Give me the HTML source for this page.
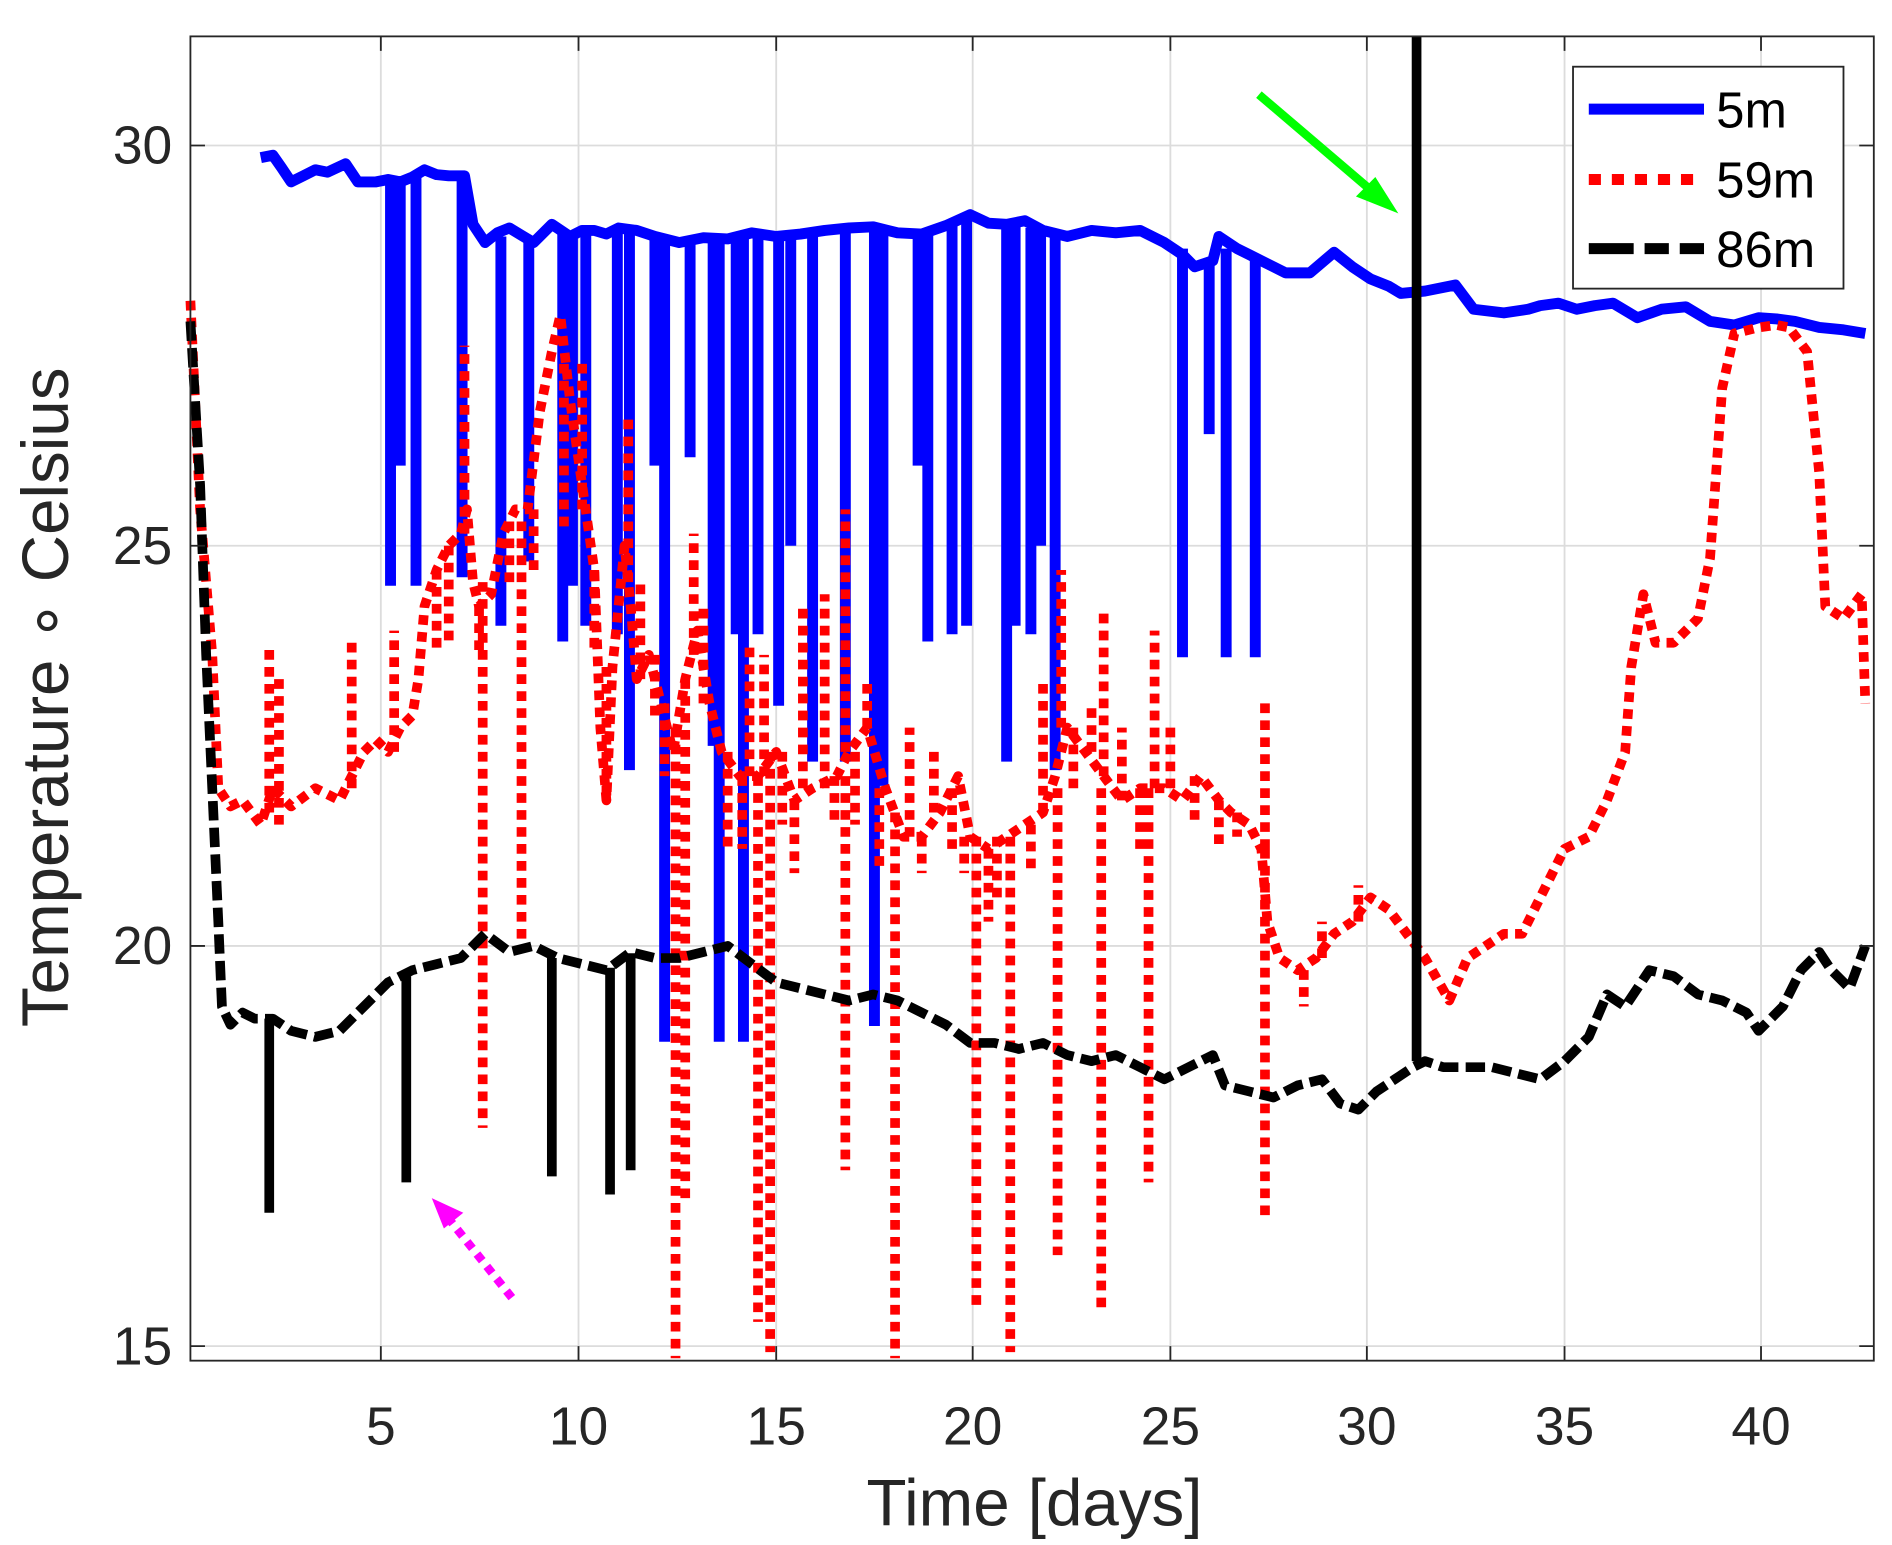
<!DOCTYPE html>
<html><head><meta charset="utf-8"><style>html,body{margin:0;padding:0;background:#fff}svg{display:block}</style></head>
<body>
<svg width="1892" height="1545" viewBox="0 0 1560 1274" preserveAspectRatio="none" xmlns="http://www.w3.org/2000/svg" font-family="Liberation Sans, sans-serif">
<rect width="1560" height="1274" fill="#fff"/>
<g stroke="#dcdcdc" stroke-width="1.5">
<line x1="314" y1="30" x2="314" y2="1122"/><line x1="477" y1="30" x2="477" y2="1122"/><line x1="640" y1="30" x2="640" y2="1122"/><line x1="802" y1="30" x2="802" y2="1122"/><line x1="965" y1="30" x2="965" y2="1122"/><line x1="1127" y1="30" x2="1127" y2="1122"/><line x1="1290" y1="30" x2="1290" y2="1122"/><line x1="1452" y1="30" x2="1452" y2="1122"/>
<line x1="157" y1="120" x2="1545" y2="120"/><line x1="157" y1="450" x2="1545" y2="450"/><line x1="157" y1="780" x2="1545" y2="780"/><line x1="157" y1="1110" x2="1545" y2="1110"/>
</g>
<g fill="none" stroke-linejoin="round">
<g stroke="#0000ff" stroke-width="9">
<polyline points="215,130 225,128 232,138 240,150 250,145 260,140 270,142 285,135 295,150 310,150 320,148 330,150 340,146 350,140 360,144 370,145 383,145 390,185 400,200 410,192 420,188 430,194 440,200 455,185 470,195 480,190 490,190 500,193 510,188 525,190 540,195 560,200 580,196 600,197 620,192 640,195 660,193 680,190 700,188 720,187 740,192 760,193 780,186 800,177 815,184 830,185 845,182 860,190 880,195 900,190 920,192 940,190 960,200 975,210 985,220 1000,215 1005,195 1020,205 1030,210 1040,215 1060,225 1080,225 1100,208 1115,220 1130,230 1145,236 1155,242 1175,240 1200,235 1215,255 1240,258 1260,255 1270,252 1285,250 1300,255 1315,252 1330,250 1350,262 1370,255 1390,253 1410,265 1430,268 1450,262 1465,263 1480,265 1500,270 1520,272 1538,275"/>
<path d="M322,150V483M330,150V384M343,145V483M381,145V476M413,195V516M436,195V463M464,190V529M472,193V483M483,190V516M509,188V523M519,190V635M540,195V384M548,197V859M569,198V377M588,198V615M593,198V859M607,197V523M613,197V859M625,196V523M642,195V582M652,194V450M670,192V628M697,190V628M721,188V846M728,188V648M757,192V384M765,192V529M785,185V523M797,180V516M830,185V628M837,186V516M850,188V523M858,189V450M870,193V635M975,205V542M997,215V358M1011,205V542M1035,212V542"/>
</g>
<g stroke="#ff0000" stroke-width="8" stroke-dasharray="8 6">
<polyline points="157,248 165,420 175,540 180,650 190,665 200,660 215,680 225,650 240,665 260,650 280,660 290,640 300,620 310,610 320,620 330,600 340,590 345,560 350,500 360,470 370,450 380,440 385,420 390,480 395,500 405,490 415,440 425,420 435,420 445,340 455,290 462,260 470,330 480,400 490,470 495,600 500,660 505,550 515,450 520,500 525,560 535,540 545,580 555,620 565,560 575,520 585,580 595,620 610,640 625,640 640,620 655,660 670,650 690,640 700,620 715,600 730,650 745,690 760,690 775,670 790,640 800,690 815,700 830,690 845,680 860,670 870,640 880,600 895,620 910,640 925,660 940,650 960,650 975,660 990,640 1005,660 1015,670 1030,680 1040,700 1045,760 1055,790 1070,800 1085,790 1100,770 1115,760 1130,740 1145,750 1160,770 1175,790 1195,825 1210,790 1225,780 1240,770 1255,770 1270,740 1290,700 1310,690 1325,660 1340,620 1345,550 1355,490 1365,530 1380,530 1400,510 1410,460 1420,320 1430,275 1450,270 1465,268 1475,270 1490,290 1500,390 1505,500 1520,510 1535,490 1538,580"/>
<path d="M398,480V930M430,430V780M557,600V1120M565,560V990M625,640V1090M635,620V1115M697,640V965M738,670V1120M805,690V1080M833,690V1115M872,650V1035M908,650V1080M947,650V975M1043,700V1005M383,440V285M480,420V300M518,480V340M572,540V440M697,620V420M715,600V560M875,600V470M910,640V500M952,650V520M1043,700V580M230,680V560M222,670V535M290,650V530M325,620V520M618,640V530M630,640V540M662,650V500M680,650V490M360,470V540M370,450V530M395,500V540M420,430V480M440,420V470M465,300V440M490,470V540M500,550V660M528,560V480M540,540V590M548,580V640M580,580V500M600,620V700M612,640V700M645,620V680M655,660V720M688,640V680M705,620V680M725,650V720M750,690V600M760,690V720M770,670V620M785,650V700M795,690V720M815,700V760M822,690V740M850,680V720M860,670V560M885,600V650M900,620V580M925,660V600M940,650V700M965,650V600M985,640V680M1005,660V700M1020,670V690M1075,800V830M1090,790V760M1120,760V730"/>
</g>
<g stroke="#000" stroke-width="8" stroke-dasharray="16 6">
<polyline points="157,265 165,400 170,540 175,650 180,760 183,830 190,845 200,835 210,840 225,840 240,850 260,855 280,850 300,830 320,810 340,800 360,795 380,790 400,770 420,785 440,780 460,790 480,795 500,800 520,785 540,790 560,790 580,785 600,780 620,795 640,810 660,815 680,820 700,825 720,820 740,825 760,835 780,845 800,860 820,860 840,865 860,860 880,870 900,875 920,870 940,880 960,890 980,880 1000,870 1010,895 1030,900 1050,905 1070,895 1090,890 1105,910 1120,915 1135,900 1150,890 1165,880 1175,875 1190,880 1210,880 1230,880 1250,885 1270,890 1290,875 1310,855 1325,820 1340,830 1360,800 1380,805 1400,820 1420,825 1440,835 1450,850 1470,830 1485,800 1500,785 1510,800 1525,815 1538,780"/>
</g>
<g stroke="#000" stroke-width="8">
<path d="M222,840V1000M335,805V975M455,790V970M503,798V985M520,786V965"/>
<line x1="1168" y1="30" x2="1168" y2="875" stroke-width="8"/>
</g>
<g stroke="#00ff00" stroke-width="7"><line x1="1038" y1="78" x2="1140" y2="165"/></g>
<polygon points="1153,176 1118,162 1134,146" fill="#00ff00"/>
<g stroke="#ff00ff" stroke-width="7" stroke-dasharray="7 6"><line x1="422" y1="1070" x2="366" y2="1000"/></g>
<polygon points="356,988 382,1000 366,1013" fill="#ff00ff"/>
</g>
<rect x="157" y="30" width="1388" height="1092" fill="none" stroke="#262626" stroke-width="1.5"/>
<g stroke="#262626" stroke-width="1.5">
<path d="M314,1122v-12M477,1122v-12M640,1122v-12M802,1122v-12M965,1122v-12M1127,1122v-12M1290,1122v-12M1452,1122v-12M314,30v12M477,30v12M640,30v12M802,30v12M965,30v12M1127,30v12M1290,30v12M1452,30v12"/>
<path d="M157,120h12M157,450h12M157,780h12M157,1110h12M1545,120h-12M1545,450h-12M1545,780h-12M1545,1110h-12"/>
</g>
<g fill="#262626" font-size="44" text-anchor="middle">
<text x="314" y="1191">5</text><text x="477" y="1191">10</text><text x="640" y="1191">15</text><text x="802" y="1191">20</text><text x="965" y="1191">25</text><text x="1127" y="1191">30</text><text x="1290" y="1191">35</text><text x="1452" y="1191">40</text>
</g>
<g fill="#262626" font-size="44" text-anchor="end">
<text x="142" y="135">30</text><text x="142" y="465">25</text><text x="142" y="795">20</text><text x="142" y="1125">15</text>
</g>
<text x="853" y="1258" font-size="54" text-anchor="middle" fill="#262626">Time [days]</text>
<text transform="translate(56,575) rotate(-90)" font-size="54" text-anchor="middle" fill="#262626">Temperature ∘ Celsius</text>
<rect x="1297" y="55" width="223" height="183" fill="#fff" stroke="#262626" stroke-width="1.5"/>
<line x1="1310" y1="90" x2="1405" y2="90" stroke="#0000ff" stroke-width="9"/>
<line x1="1310" y1="148" x2="1402" y2="148" stroke="#ff0000" stroke-width="9" stroke-dasharray="10 9"/>
<line x1="1310" y1="205" x2="1405" y2="205" stroke="#000" stroke-width="9" stroke-dasharray="37 9 20 9"/>
<g font-size="42" fill="#000"><text x="1415" y="105">5m</text><text x="1415" y="163">59m</text><text x="1415" y="220">86m</text></g>
</svg>
</body></html>
